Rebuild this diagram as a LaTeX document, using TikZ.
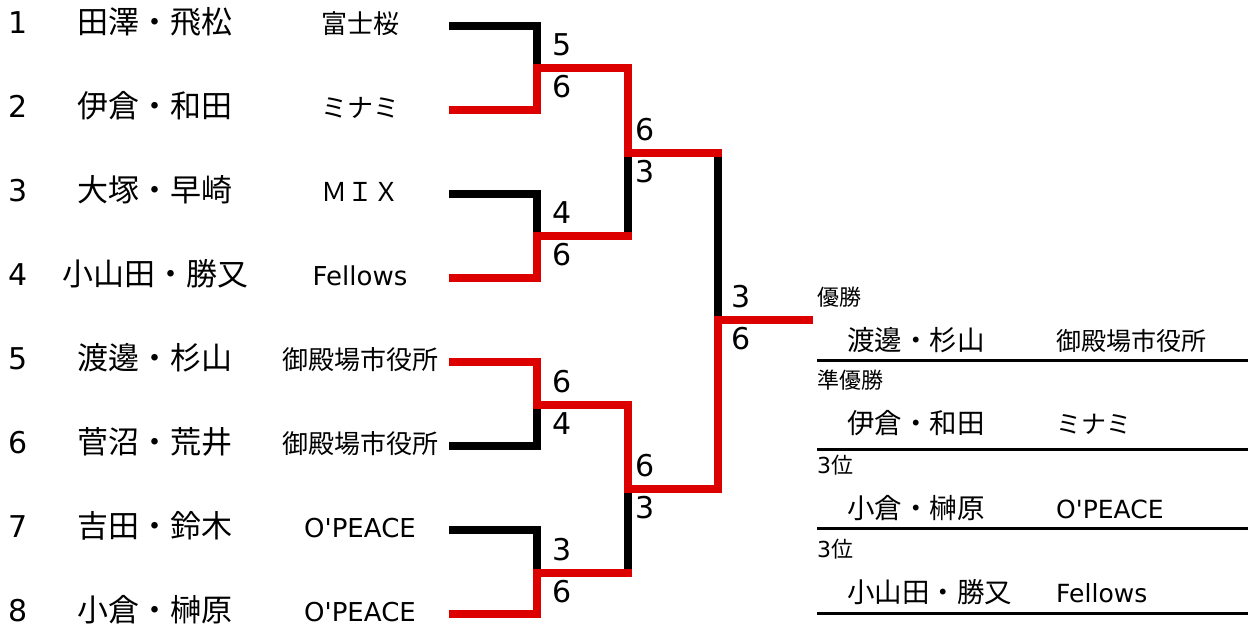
\documentclass[tikz,border=0pt]{standalone}
\usepackage{fontspec}
\setmainfont{Noto Sans CJK JP}
\newfontfamily\westfont{DejaVu Sans}[Ligatures=TeXOff]
\definecolor{winred}{RGB}{221,0,0}
\tikzset{
  seed/.style={anchor=base,inner sep=0pt,font=\westfont\fontsize{30}{30}\selectfont},
  player/.style={anchor=base,inner sep=0pt,font=\fontsize{31}{31}\selectfont},
  club/.style={anchor=base,inner sep=0pt,font=\fontsize{26}{26}\selectfont},
  score/.style={anchor=base,inner sep=0pt,font=\westfont\fontsize{30}{30}\selectfont},
  rank/.style={anchor=base west,inner sep=0pt,font=\fontsize{22}{22}\selectfont},
  rname/.style={anchor=base west,inner sep=0pt,font=\fontsize{27.5}{27.5}\selectfont},
  rclub/.style={anchor=base west,inner sep=0pt,font=\fontsize{25}{25}\selectfont},
  lose/.style={line width=8pt,black,line cap=rect,line join=miter},
  win/.style={line width=8pt,winred,line cap=rect,line join=miter},
}
\begin{document}
\begin{tikzpicture}[x=1pt,y=-1pt]
    \useasboundingbox (0,0) rectangle (1248,624);
    \def\dy{84};
    % entries
    \foreach \i/\nm/\tm in {1/田澤・飛松/富士桜, 2/伊倉・和田/ミナミ, 3/大塚・早崎/ＭＩＸ,
      4/小山田・勝又/{\westfont Fellows}, 5/渡邊・杉山/御殿場市役所, 6/菅沼・荒井/御殿場市役所,
      7/吉田・鈴木/{\westfont O'PEACE}, 8/小倉・榊原/{\westfont O'PEACE}} {
        \node[seed] (n\i) at (18,{33+\dy*(\i-1)}) {\i};
        \node[player] (p\i) at (155,{33+\dy*(\i-1)}) {\nm};
        \node[club] (t\i) at (360,{33+\dy*(\i-1)}) {\tm};
        \coordinate (e\i) at (453,{26+\dy*(\i-1)});
      }
    \coordinate (m1) at (537,68);
    \coordinate (m2) at (537,236);
    \coordinate (m3) at (537,405);
    \coordinate (m4) at (537,573);
    \coordinate (s1) at (628,153);
    \coordinate (s2) at (628,489);
    \coordinate (f) at (718,320);
    \coordinate (w) at (809,320);
    % losers
    \draw[lose] (e1) -| (m1);
    \draw[lose] (e3) -| (m2);
    \draw[lose] (e6) -| (m3);
    \draw[lose] (e7) -| (m4);
    \draw[lose] (m2 -| s1) -- (s1);
    \draw[lose] (m4 -| s2) -- (s2);
    \draw[lose] (s1 -| f) -- (f);
    % winners
    \draw[win] (e2) -| (m1) -| (s1) -- (s1 -| f);
    \draw[win] (e4) -| (m2) -- (m2 -| s1);
    \draw[win] (e5) -| (m3) -| (s2) -- (s2 -| f) -- (f) -- (w);
    \draw[win] (e8) -| (m4) -- (m4 -| s2);
    % scores
    \foreach \c/\dx/\hi/\lo in {m1/25/5/6, m2/25/4/6, m3/25/6/4, m4/25/3/6,
      s1/17/6/3, s2/17/6/3, f/23/3/6} {
        \path (\c) ++(\dx,-13) node[score] (\c hi) {\hi};
        \path (\c) ++(\dx,29) node[score] (\c lo) {\lo};
      }
    % results
    \foreach \k/\y/\rk/\nm/\tm in {1/0/優勝/渡邊・杉山/御殿場市役所, 2/83/準優勝/伊倉・和田/ミナミ,
      3/168/{{\westfont 3}位}/小倉・榊原/{\westfont O'PEACE},
      4/252/{{\westfont 3}位}/小山田・勝又/{\westfont Fellows}} {
        \node[rank] (r\k) at (817,305+\y) {\rk};
        \node[rname] (rn\k) at (847,350+\y) {\nm};
        \node[rclub] (rc\k) at (1056,350+\y) {\tm};
      }
    \foreach \y in {360.5,449.5,528.5,613} \draw[line width=3pt] (817,\y) -- (1248,\y);
\end{tikzpicture}
\end{document}
